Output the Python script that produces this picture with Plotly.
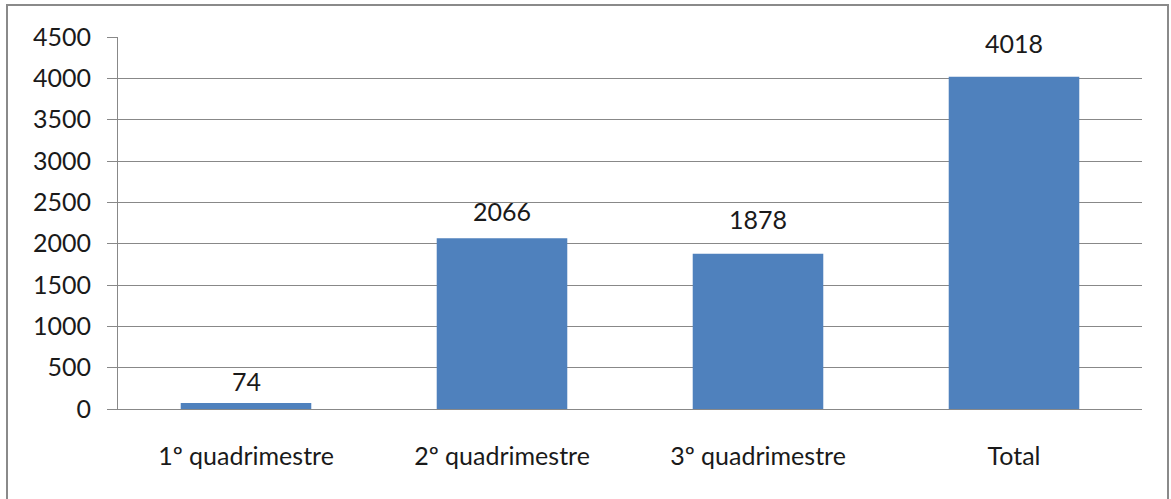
import plotly.graph_objects as go

categories = ["1º quadrimestre", "2º quadrimestre", "3º quadrimestre", "Total"]
values = [74, 2066, 1878, 4018]
y_ticks = [0, 500, 1000, 1500, 2000, 2500, 3000, 3500, 4000, 4500]
# vertical offset (px) of each data label above its bar top (style, not data)
label_shift = [22, 27, 35, 34]

W, H = 1171, 499
ml, mr, mt, mb = 118, 29, 37, 90
pw = W - ml - mr
ph = H - mt - mb

font_family = "Lato, Open Sans, sans-serif"
fs = 25
grid = "#888888"

fig = go.Figure()
fig.add_trace(go.Bar(
    x=categories, y=values,
    marker=dict(color="#4F81BD", line=dict(width=0)),
    width=0.51,
    hoverinfo="skip",
))

for c, v, s in zip(categories, values, label_shift):
    fig.add_annotation(x=c, y=v, text=str(v), showarrow=False,
                       yanchor="middle", yshift=s,
                       font=dict(family=font_family, size=fs, color="#1a1a1a"))

# outer chart border
fig.add_shape(type="rect", xref="paper", yref="paper",
              x0=(7 - ml) / pw, x1=(1168 - ml) / pw,
              y0=(H - mb - 510) / ph, y1=(H - mb - 5) / ph,
              line=dict(color="#8a8a8a", width=2), fillcolor="rgba(0,0,0,0)", layer="below")

fig.update_layout(
    width=W, height=H,
    margin=dict(l=ml, r=mr, t=mt, b=mb),
    paper_bgcolor="white", plot_bgcolor="white",
    showlegend=False,
    font=dict(family=font_family, size=fs, color="#1a1a1a"),
    xaxis=dict(
        showline=True, linecolor=grid, linewidth=1,
        showgrid=False, ticks="outside", ticklen=25, tickcolor="rgba(0,0,0,0)",
        tickfont=dict(family=font_family, size=fs, color="#1a1a1a"),
        fixedrange=True,
    ),
    yaxis=dict(
        range=[0, 4500], tickvals=y_ticks,
        showline=True, linecolor=grid, linewidth=1,
        showgrid=True, gridcolor=grid, gridwidth=1,
        ticks="outside", ticklen=10, tickcolor=grid,
        ticklabelstandoff=11,
        tickfont=dict(family=font_family, size=fs, color="#1a1a1a"),
        zeroline=False, fixedrange=True,
    ),
)

fig.write_html("out.html")
